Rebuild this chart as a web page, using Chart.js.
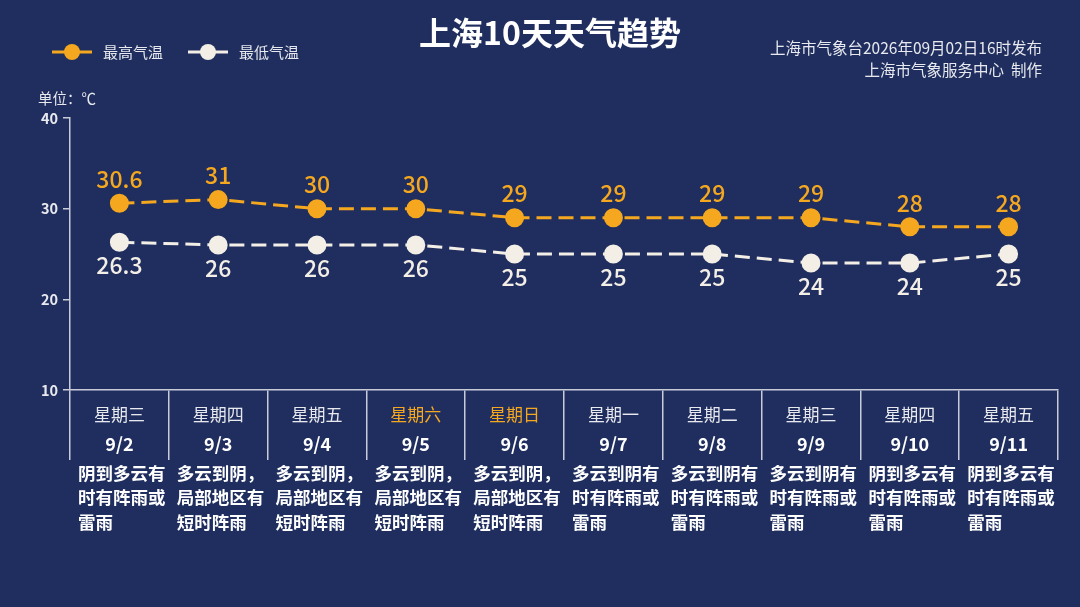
<!DOCTYPE html>
<html>
<head>
<meta charset="utf-8">
<script src="https://cdn.jsdelivr.net/npm/chart.js@4.4.0/dist/chart.umd.min.js"></script>
<style>
    html, body { margin: 0; padding: 0; background: #1f2e5e; }
    #wrap { width: 1080px; height: 607px; position: relative; }
</style>
</head>
<body>
<div id="wrap"><canvas id="canvas-trend"></canvas></div>
<script>
const dates = ["9/2", "9/3", "9/4", "9/5", "9/6", "9/7", "9/8", "9/9", "9/10", "9/11"]
const weekdays = ["星期三", "星期四", "星期五", "星期六", "星期日", "星期一", "星期二", "星期三", "星期四", "星期五"]
const high_temps = [30.6, 31, 30, 30, 29, 29, 29, 29, 28, 28]
const low_temps = [26.3, 26, 26, 26, 25, 25, 25, 24, 24, 25]
const y_ticks = [10, 20, 30, 40]
const descriptions = [
    ["阴到多云有", "时有阵雨或", "雷雨"],
    ["多云到阴，", "局部地区有", "短时阵雨"],
    ["多云到阴，", "局部地区有", "短时阵雨"],
    ["多云到阴，", "局部地区有", "短时阵雨"],
    ["多云到阴，", "局部地区有", "短时阵雨"],
    ["多云到阴有", "时有阵雨或", "雷雨"],
    ["多云到阴有", "时有阵雨或", "雷雨"],
    ["多云到阴有", "时有阵雨或", "雷雨"],
    ["阴到多云有", "时有阵雨或", "雷雨"],
    ["阴到多云有", "时有阵雨或", "雷雨"]
]
const weekend_days = [3, 4] // 星期六, 星期日 shown in orange

const orange = "#f5a81f"
const white = "#f3eee6"
const text_color = "#e8e9ee"
const font_name = "'Noto Sans CJK SC', 'Noto Sans', sans-serif"

// title, legend, notes, point labels and the table under the x axis
const text_plugin = {
    id: "texts",
    afterDatasetsDraw(chart){
        const ctx = chart.ctx
        ctx.save()
        ctx.textAlign = "center"
        ctx.textBaseline = "middle"
        chart.data.datasets.forEach((ds, d) => {
            const meta = chart.getDatasetMeta(d)
            ctx.fillStyle = ds.borderColor
            ctx.font = "500 23px " + font_name
            meta.data.forEach((pt, i) => {
                const dy = d == 0 ? -24 : 23
                ctx.fillText(String(ds.data[i]), pt.x, pt.y + dy)
            })
        })
        ctx.restore()
    },
    afterDraw(chart){
        const ctx = chart.ctx
        const x = chart.scales.x
        const half = (x.getPixelForValue(1) - x.getPixelForValue(0)) / 2
        ctx.save()
        ctx.textBaseline = "middle"

        // title
        ctx.textAlign = "center"
        ctx.fillStyle = "#ffffff"
        ctx.font = "bold 32px " + font_name
        ctx.fillText("上海10天天气趋势", 550, 33)

        // notes top right
        ctx.textAlign = "right"
        ctx.fillStyle = text_color
        ctx.font = "15.5px " + font_name
        ctx.fillText("上海市气象台2026年09月02日16时发布", 1042, 48)
        ctx.fillText("上海市气象服务中心  制作", 1042, 70)

        // legend
        let lx = 52
        chart.data.datasets.forEach(ds => {
            ctx.strokeStyle = ds.borderColor
            ctx.lineWidth = 3
            ctx.beginPath()
            ctx.moveTo(lx, 52)
            ctx.lineTo(lx + 40, 52)
            ctx.stroke()
            ctx.fillStyle = ds.pointBackgroundColor
            ctx.beginPath()
            ctx.arc(lx + 20, 52, 8, 0, Math.PI * 2)
            ctx.fill()
            ctx.textAlign = "left"
            ctx.fillStyle = text_color
            ctx.font = "15px " + font_name
            ctx.fillText(ds.label, lx + 51, 52)
            lx += 136
        })

        // unit
        ctx.textAlign = "left"
        ctx.font = "14.5px " + font_name
        ctx.fillText("单位：℃", 38, 98)

        // table under x axis
        dates.forEach((d, i) => {
            const cx = x.getPixelForValue(i)
            ctx.textAlign = "center"
            ctx.fillStyle = weekend_days.includes(i) ? orange : text_color
            ctx.font = "17px " + font_name
            ctx.fillText(weekdays[i], cx, 415)
            ctx.fillStyle = "#ffffff"
            ctx.font = "bold 18px " + font_name
            ctx.fillText(d, cx, 444)
            ctx.textAlign = "left"
            ctx.font = "bold 17.5px " + font_name
            descriptions[i].forEach((line, k) => {
                ctx.fillText(line, cx - half + 8, 473 + k * 24.5)
            })
        })
        ctx.restore()
    }
}

const ctx = document.getElementById("canvas-trend").getContext("2d")

const config = {
    type: "line",
    data: {
        labels: dates,
        datasets: [{
            label: "最高气温",
            data: high_temps,
            borderColor: orange,
            pointBackgroundColor: orange,
            pointBorderColor: orange,
            borderWidth: 3,
            borderDash: [15, 7],
            pointRadius: 8,
            pointHoverRadius: 8,
            tension: 0,
            fill: false
        }, {
            label: "最低气温",
            data: low_temps,
            borderColor: white,
            pointBackgroundColor: white,
            pointBorderColor: white,
            borderWidth: 3,
            borderDash: [15, 7],
            pointRadius: 8,
            pointHoverRadius: 8,
            tension: 0,
            fill: false
        }]
    },
    options: {
        responsive: false,
        animation: false,
        layout: {
            padding: { top: 118, left: 30, right: 22, bottom: 0 }
        },
        plugins: {
            legend: { display: false },
            tooltip: { enabled: false }
        },
        scales: {
            x: {
                offset: true,
                afterFit: s => { s.height = 217 },
                border: { color: "#c9ccd8", width: 1.5 },
                grid: {
                    offset: true,
                    drawOnChartArea: false,
                    tickLength: 70,
                    color: "#c9ccd8",
                    lineWidth: 1.5
                },
                ticks: { display: false }
            },
            y: {
                min: y_ticks[0],
                max: y_ticks[y_ticks.length - 1],
                afterFit: s => { s.width = 40 },
                afterBuildTicks: s => { s.ticks = y_ticks.map(v => ({ value: v })) },
                border: { color: "#c9ccd8", width: 1.5 },
                grid: {
                    drawOnChartArea: false,
                    tickLength: 7,
                    color: "#c9ccd8",
                    lineWidth: 1.5
                },
                ticks: {
                    color: text_color,
                    padding: 5,
                    font: { family: font_name, size: 14.5, weight: "bold" }
                }
            }
        }
    },
    plugins: [text_plugin]
}
const canvas = document.getElementById("canvas-trend")
canvas.width = 1080
canvas.height = 607
new Chart(ctx, config)
</script>
</body>
</html>
